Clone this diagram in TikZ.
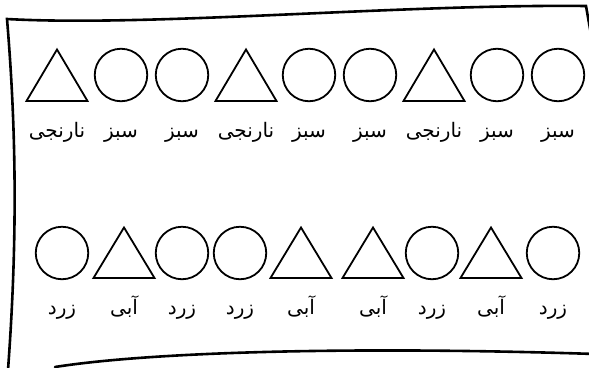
\documentclass[tikz,border=0pt]{standalone}
\usepackage{fontspec}
\TeXXeTstate=1
\newfontfamily\arabicfont[Script=Arabic]{DejaVu Sans}
\begin{document}
\begin{tikzpicture}[x=1pt,y=-1pt,
  shp/.style={line width=1.8pt, line join=miter},
  circ/.style={circle, draw, line width=1.8pt, minimum size=52.5pt, inner sep=0pt},
  frame/.style={line width=2.6pt, line cap=round},
  lbl/.style={font=\arabicfont\fontsize{20}{24}\selectfont, inner sep=0pt, anchor=base}]
\useasboundingbox (0,0) rectangle (589,367);
% frame
\draw[frame] (592,40) -- (586,6) .. controls (400,4) and (150,27) .. (7,19)
  .. controls (18,150) and (16,260) .. (8,370);
\draw[frame] (55,367) .. controls (150,352) and (350,346) .. (595,354);
% row 1
\foreach \x [count=\i] in {57,246,434}
  \draw[shp] (\x,49.5) -- (\x+30.5,101) -- (\x-30.5,101) -- cycle;
\foreach \x [count=\i] in {121,182,309,370,497,558}
  \node[circ] (ca\i) at (\x,75) {};
\foreach \x/\t [count=\i] in {57/نارنجی,121/سبز,182/سبز,246/نارنجی,309/سبز,370/سبز,434/نارنجی,497/سبز,558/سبز}
  \node[lbl] (la\i) at (\x,137) {\beginR\t\endR};
% row 2
\foreach \x [count=\i] in {124,301,373,491}
  \draw[shp] (\x,227.5) -- (\x+30.5,278) -- (\x-30.5,278) -- cycle;
\foreach \x [count=\i] in {62,182,240,432,553}
  \node[circ] (cb\i) at (\x,253) {};
\foreach \x/\t [count=\i] in {62/زرد,124/آبی,182/زرد,240/زرد,301/آبی,373/آبی,432/زرد,491/آبی,553/زرد}
  \node[lbl] (lb\i) at (\x,314) {\beginR\t\endR};
\end{tikzpicture}
\end{document}
